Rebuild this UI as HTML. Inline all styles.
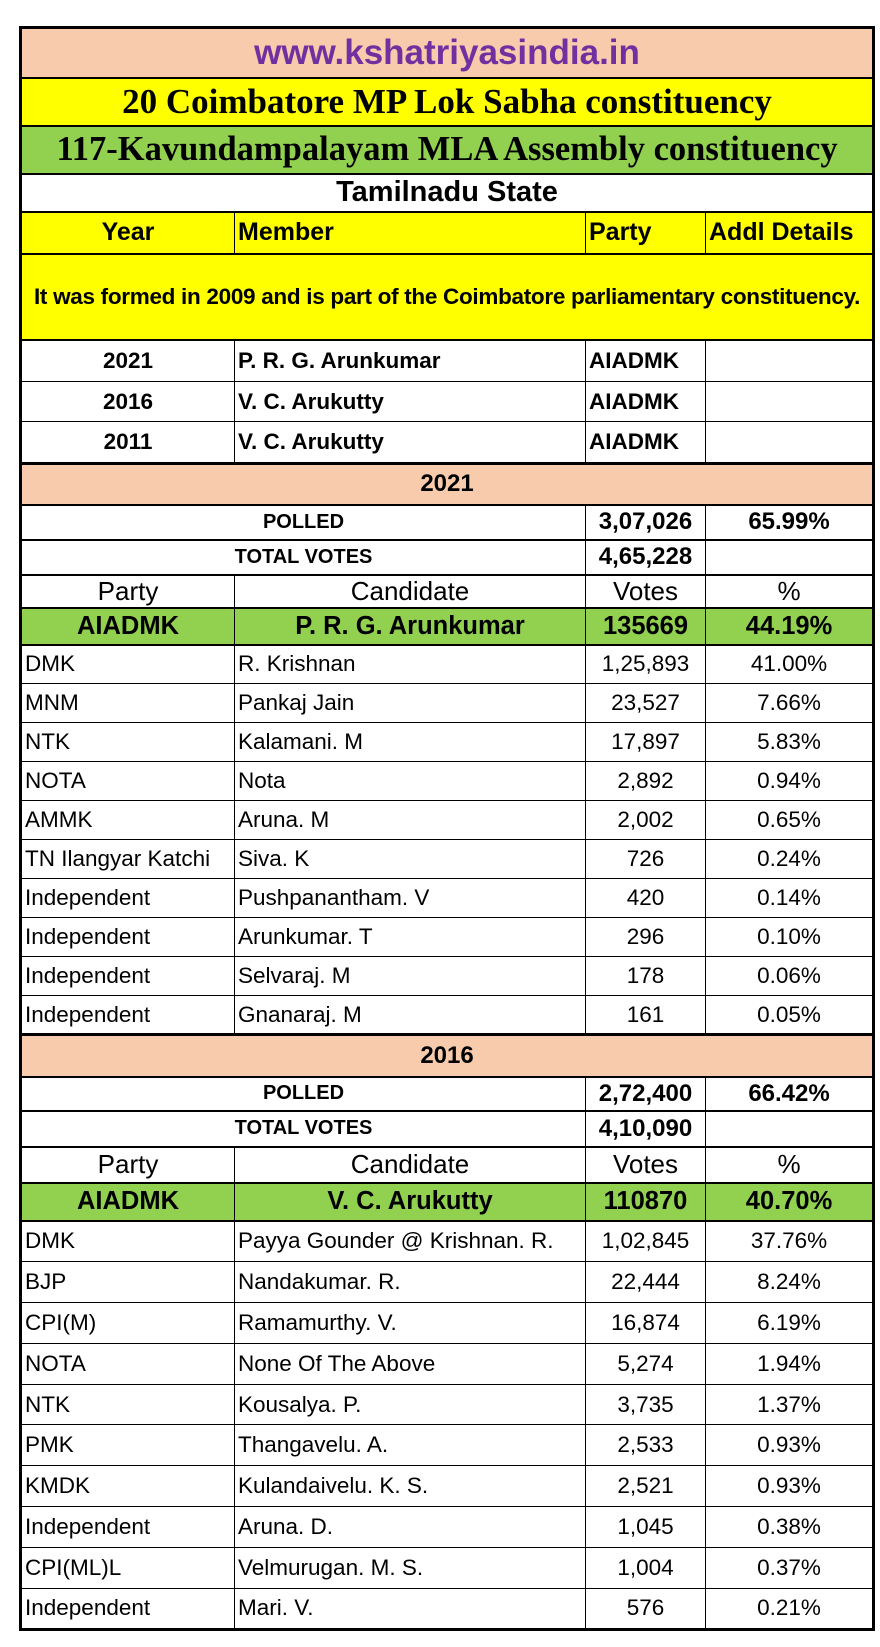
<!DOCTYPE html>
<html><head><meta charset="utf-8"><style>
body{margin:0;width:880px;height:1647px;background:#fff;position:relative;overflow:hidden}
table{position:absolute;left:19px;top:26px;width:853px;border-collapse:collapse;table-layout:fixed;font-family:"Liberation Sans",sans-serif;font-size:22.5px;color:#000}
td{border:1px solid #000;padding:0 3px;overflow:hidden;white-space:nowrap}
.c{text-align:center}.b{font-weight:bold}
.pk{background:#f8cbad}.ye{background:#ffff00}.gr{background:#92d050}
.serif{font-family:"Liberation Serif",serif;font-weight:bold;font-size:34.5px}
.thick td{border-top:2px solid #000}
.hd td{font-size:26px}
.win td{font-size:25.5px}
.num{font-size:24px}
</style></head><body>
<table style="border:3px solid #000">
<colgroup><col style="width:214px"><col style="width:351px"><col style="width:120px"><col style="width:168px"></colgroup>
<tr style="height:50px" class="pk"><td colspan="4" class="c b" style="color:#7030a0;font-size:35px">www.kshatriyasindia.in</td></tr>
<tr style="height:48px" class="ye thick"><td colspan="4" class="c serif" style="font-size:35px">20 Coimbatore MP Lok Sabha constituency</td></tr>
<tr style="height:48px" class="gr thick"><td colspan="4" class="c serif">117-Kavundampalayam MLA Assembly constituency</td></tr>
<tr style="height:38px" class="thick"><td colspan="4" class="c b" style="font-size:29px">Tamilnadu State</td></tr>
<tr style="height:42px" class="ye thick b" style="font-size:25px"><td class="c" style="font-size:25px">Year</td><td style="font-size:25px">Member</td><td style="font-size:25px">Party</td><td style="font-size:25px">Addl Details</td></tr>
<tr style="height:86px" class="ye thick"><td colspan="4" class="c b" style="font-size:22.5px;letter-spacing:-0.3px">It was formed in 2009 and is part of the Coimbatore parliamentary constituency.</td></tr>
<tr style="height:42px" class="thick b"><td class="c">2021</td><td>P. R. G. Arunkumar</td><td>AIADMK</td><td></td></tr>
<tr style="height:40px" class="b"><td class="c">2016</td><td>V. C. Arukutty</td><td>AIADMK</td><td></td></tr>
<tr style="height:42px" class="b"><td class="c">2011</td><td>V. C. Arukutty</td><td>AIADMK</td><td></td></tr>
<tr style="height:41px" class="pk thick"><td colspan="4" class="c b" style="border-top:3px solid #000;font-size:24px">2021</td></tr>
<tr style="height:35px" class="thick"><td colspan="2" class="c b" style="font-size:20px">POLLED</td><td class="c b num">3,07,026</td><td class="c b num">65.99%</td></tr>
<tr style="height:35px" class="thick"><td colspan="2" class="c b" style="font-size:20px">TOTAL VOTES</td><td class="c b num">4,65,228</td><td></td></tr>
<tr style="height:33px" class="thick hd"><td class="c">Party</td><td class="c">Candidate</td><td class="c">Votes</td><td class="c">%</td></tr>
<tr style="height:37px" class="gr thick b win"><td class="c">AIADMK</td><td class="c">P. R. G. Arunkumar</td><td class="c">135669</td><td class="c">44.19%</td></tr>
<tbody id="r2021"></tbody>
<tr style="height:42px" class="pk"><td colspan="4" class="c b" style="border-top:3px solid #000;font-size:24px">2016</td></tr>
<tr style="height:34px" class="thick"><td colspan="2" class="c b" style="font-size:20px">POLLED</td><td class="c b num">2,72,400</td><td class="c b num">66.42%</td></tr>
<tr style="height:36px" class="thick"><td colspan="2" class="c b" style="font-size:20px">TOTAL VOTES</td><td class="c b num">4,10,090</td><td></td></tr>
<tr style="height:36px" class="thick hd"><td class="c">Party</td><td class="c">Candidate</td><td class="c">Votes</td><td class="c">%</td></tr>
<tr style="height:38px" class="gr thick b win"><td class="c">AIADMK</td><td class="c">V. C. Arukutty</td><td class="c">110870</td><td class="c">40.70%</td></tr>
<tbody id="r2016"></tbody>
</table>
<script>
const parties2021=["DMK","MNM","NTK","NOTA","AMMK","TN Ilangyar Katchi","Independent","Independent","Independent","Independent"];
const candidates2021=["R. Krishnan","Pankaj Jain","Kalamani. M","Nota","Aruna. M","Siva. K","Pushpanantham. V","Arunkumar. T","Selvaraj. M","Gnanaraj. M"];
const votes2021=["1,25,893","23,527","17,897","2,892","2,002","726","420","296","178","161"];
const pct2021=["41.00%","7.66%","5.83%","0.94%","0.65%","0.24%","0.14%","0.10%","0.06%","0.05%"];
const parties2016=["DMK","BJP","CPI(M)","NOTA","NTK","PMK","KMDK","Independent","CPI(ML)L","Independent"];
const candidates2016=["Payya Gounder @ Krishnan. R.","Nandakumar. R.","Ramamurthy. V.","None Of The Above","Kousalya. P.","Thangavelu. A.","Kulandaivelu. K. S.","Aruna. D.","Velmurugan. M. S.","Mari. V."];
const votes2016=["1,02,845","22,444","16,874","5,274","3,735","2,533","2,521","1,045","1,004","576"];
const pct2016=["37.76%","8.24%","6.19%","1.94%","1.37%","0.93%","0.93%","0.38%","0.37%","0.21%"];
function fill(id,p,c,v,pc,h){
  const tb=document.getElementById(id);
  for(let i=0;i<p.length;i++){
    const tr=document.createElement('tr');
    tr.style.height=h+'px';
    if(i===0)tr.className='thick';
    
    
    tr.innerHTML='<td>'+p[i]+'</td><td>'+c[i]+'</td><td class="c">'+v[i]+'</td><td class="c">'+pc[i]+'</td>';
    tb.appendChild(tr);
  }
}
fill('r2021',parties2021,candidates2021,votes2021,pct2021,39);
fill('r2016',parties2016,candidates2016,votes2016,pct2016,40.9);
</script>
</body></html>
